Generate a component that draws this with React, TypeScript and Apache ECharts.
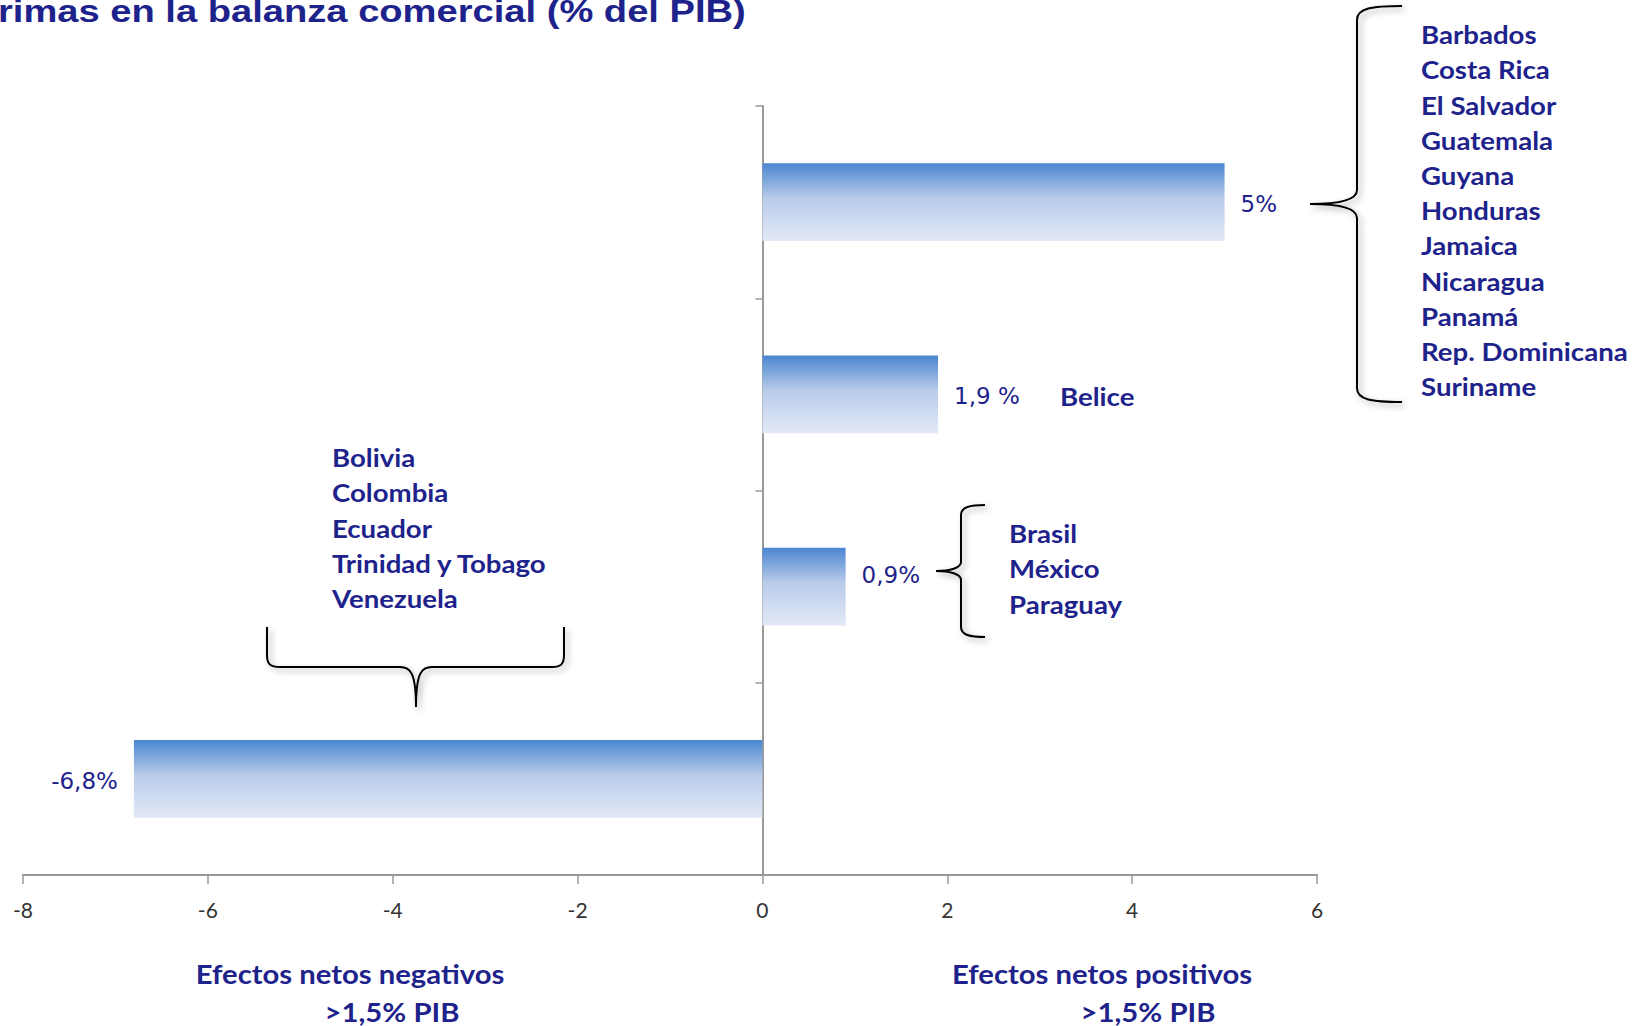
import React, { useEffect, useRef } from "react";
import * as echarts from "echarts";

const categories = ["Grupo positivo", "Belice", "Grupo intermedio", "Grupo negativo"];
const values = [5, 1.9, 0.9, -6.8];
const valueLabels = ["5%", "1,9 %", "0,9%", "-6,8%"];
const xTicks = [-8, -6, -4, -2, 0, 2, 4, 6];

const positiveGroup = [
  "Barbados", "Costa Rica", "El Salvador", "Guatemala", "Guyana", "Honduras",
  "Jamaica", "Nicaragua", "Panamá", "Rep. Dominicana", "Suriname",
];
const middleGroup = ["Brasil", "México", "Paraguay"];
const negativeGroup = ["Bolivia", "Colombia", "Ecuador", "Trinidad y Tobago", "Venezuela"];
const singleLabel = "Belice";
const titleText = "rimas en la balanza comercial (% del PIB)";
const footLeft = ["Efectos netos negativos", ">1,5% PIB"];
const footRight = ["Efectos netos positivos", ">1,5% PIB"];

const NAVY = "#1e238c";
const FONT = "Lato, 'Open Sans', sans-serif";

echarts.graphic.registerShape(
  "braceRight",
  echarts.graphic.extendPath(
    "M1402,6 C1372,6 1357,8 1357,20 L1357,190 C1357,200 1340,204 1310,204 C1340,204 1357,208 1357,218 L1357,388 C1357,400 1372,402 1402,402",
    {}
  )
);
echarts.graphic.registerShape(
  "braceMid",
  echarts.graphic.extendPath(
    "M985,505 C970,505 961,507 961,515 L961,562 C961,568 950,571 936,571 C950,571 961,574 961,580 L961,627 C961,635 970,637 985,637",
    {}
  )
);
echarts.graphic.registerShape(
  "braceBottom",
  echarts.graphic.extendPath(
    "M267,627 L267,655 C267,664 270,667 280,667 L400,667 C410,667 416,672 416,707 C416,672 422,667 432,667 L552,667 C561,667 564,664 564,655 L564,627",
    {}
  )
);

const braceStyle = {
  fill: "none",
  stroke: "#000",
  lineWidth: 2,
  shadowBlur: 6,
  shadowColor: "rgba(0,0,0,0.35)",
  shadowOffsetX: 3,
  shadowOffsetY: 3,
};

function listTexts(items: string[], x: number, y0: number, step: number, size: number, sx: number) {
  return items.map((t, i) => ({
    type: "text",
    x,
    y: y0 + i * step,
    scaleX: sx,
    style: {
      text: t,
      fill: NAVY,
      font: `bold ${size}px ${FONT}`,
      align: "left",
      verticalAlign: "middle",
    },
  }));
}

function centerTexts(items: string[], xs: number[], ys: number[], size: number, sx: number) {
  return items.map((t, i) => ({
    type: "text",
    x: xs[i],
    y: ys[i],
    scaleX: sx,
    style: {
      text: t,
      fill: NAVY,
      font: `bold ${size}px ${FONT}`,
      align: "center",
      verticalAlign: "middle",
    },
  }));
}

const labelOffsets = [[0, 2], [0, 2], [0, -12], [0, 2]];

export default function App() {
  const ref = useRef<HTMLDivElement>(null);
  useEffect(() => {
    if (!ref.current) return;
    const chart = echarts.init(ref.current, null, { renderer: "svg" });
    const gradient = new echarts.graphic.LinearGradient(0, 0, 0, 1, [
      { offset: 0, color: "#4a86d0" },
      { offset: 0.45, color: "#b9cbea" },
      { offset: 1, color: "#e2e9f6" },
    ]);
    chart.setOption({
      animation: false,
      backgroundColor: "#fff",
      grid: { left: 23, right: 327, top: 106, bottom: 151, containLabel: false },
      xAxis: {
        type: "value",
        min: -8,
        max: 6,
        interval: 2,
        axisLine: { show: true, lineStyle: { color: "#999", width: 2 } },
        axisTick: { show: true, length: 9, lineStyle: { color: "#999", width: 1.5 } },
        splitLine: { show: false },
        axisLabel: {
          margin: 24,
          color: "#333",
          fontSize: 21,
          fontFamily: FONT,
          formatter: (v: number) => (xTicks.includes(v) ? String(v) : ""),
        },
      },
      yAxis: {
        type: "category",
        data: categories,
        inverse: true,
        axisLine: { show: true, onZero: true, lineStyle: { color: "#999", width: 2 } },
        axisTick: { show: true, length: 7, lineStyle: { color: "#999", width: 1.5 } },
        axisLabel: { show: false },
        splitLine: { show: false },
      },
      series: [
        {
          type: "bar",
          barWidth: "40.5%",
          data: values.map((v, i) => ({
            value: v,
            itemStyle: { color: gradient },
            label: {
              show: true,
              position: v < 0 ? "left" : "right",
              distance: 16,
              offset: labelOffsets[i],
              formatter: valueLabels[i],
              color: NAVY,
              fontSize: 23,
              fontFamily: "'DejaVu Sans', sans-serif",
            },
          })),
        },
      ],
      graphic: [
        {
          type: "text",
          x: -2,
          y: 11,
          scaleX: 1.23,
          style: {
            text: titleText,
            fill: NAVY,
            font: `bold 31px 'Liberation Sans', Arial, sans-serif`,
            align: "left",
            verticalAlign: "middle",
          },
        },
        { type: "braceRight", x: 0, y: 0, style: braceStyle },
        { type: "braceMid", x: 0, y: 0, style: braceStyle },
        { type: "braceBottom", x: 0, y: 0, style: braceStyle },
        ...listTexts(positiveGroup, 1421, 35, 35.2, 24, 1.15),
        ...listTexts([singleLabel], 1060, 397, 35, 24, 1.15),
        ...listTexts(middleGroup, 1009, 534, 35.2, 24, 1.15),
        ...listTexts(negativeGroup, 332, 458, 35.2, 24, 1.15),
        ...centerTexts(footLeft, [350, 392], [974, 1012], 26, 1.125),
        ...centerTexts(footRight, [1102, 1148], [974, 1012], 26, 1.125),
      ],
    });
    return () => chart.dispose();
  }, []);
  return (
    <div
      ref={ref}
      style={{ position: "fixed", left: 0, top: 0, width: 1644, height: 1026 }}
    />
  );
}
